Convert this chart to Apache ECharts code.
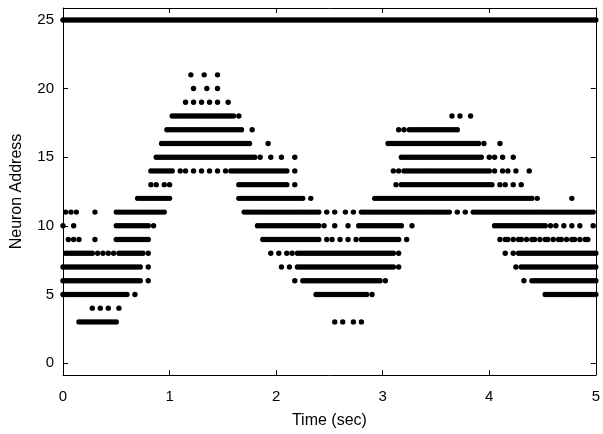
<!DOCTYPE html>
<html><head><meta charset="utf-8">
<script src="https://cdn.jsdelivr.net/npm/echarts@6/dist/echarts.min.js"></script>
<style>html,body{margin:0;padding:0;background:#fff}#c{width:603px;height:434px}</style>
</head><body><div id="c"></div>
<script>
// time bin width (seconds) used to read spike positions off the raster
const binSeconds = 0.025;
// neuron rows
const neuronIds = [3,4,5,6,7,8,9,10,11,12,13,14,15,16,17,18,19,20,21,25];
// spike bins per row (index into time bins; "a-b" = every bin from a to b)
const spikeBins = [
  "6-20,102,105,109,112",
  "11,14,17,21",
  "0-24,27,95-114,116,181-200",
  "0-29,32,87,90-119,121,173,176-200",
  "0-29,32,82,85,88-124,126,170,172-200",
  "1-11,13,15,17,19,21-30,32,78,81,84,86,88-124,126,166,169,171-200",
  "2,4,6,12,20-32,75-96,99,101,104,107,110,112-126,129,164,166,167,169,171,172,174,176,177,179,181,182,184,186,187,189,191,192,194,196,197",
  "0,4,20-32,34,73-96,98,102,107,111-127,131,162-181,183,185,188,191,194,199",
  "1,3,5,12,20-38,68-96,99,102,106,109,112-145,148,151,154-199",
  "28-40,66-90,93,117-176,178,191",
  "33,35,38,40,66-84,87,125,127-161,164,166,169,172",
  "33-41,44,46,49,52,55,58,61,63-84,87,124,126,128-160,162,165,167,170,175",
  "35-72,74,78,82,87,127-157,160,162,165,169",
  "37-70,77,122-156,158,164",
  "39-67,71,126,128,130-148",
  "41-64,66,146,149,153",
  "46,49,52,55,58,62",
  "49,54,58",
  "48,53,58",
  "0-200"
];
const xTicks = [0,1,2,3,4,5];
const yTicks = [0,5,10,15,20,25];
const xRange = [0,5];
const yRange = [-0.87,25.87];

function parseBins(s){
  const out=[];
  s.split(',').forEach(p=>{
    if(p.indexOf('-')>0){const ab=p.split('-').map(Number); for(let i=ab[0];i<=ab[1];i++) out.push(i);}
    else out.push(Number(p));
  });
  return out;
}
const points=[];
neuronIds.forEach((n,k)=>parseBins(spikeBins[k]).forEach(b=>points.push([b*binSeconds,n])));

const font = "'Liberation Sans', Arial, sans-serif";
const lineStyle = {color:'#000', width:1};
const chart = echarts.init(document.getElementById('c'), null, {renderer:'canvas'});
chart.setOption({
  animation:false,
  backgroundColor:'#fff',
  grid:{left:63,right:3,top:8,bottom:57,containLabel:false},
  xAxis:[
    {type:'value',min:xRange[0],max:xRange[1],interval:1,position:'bottom',
     axisLine:{show:true,onZero:false,lineStyle},
     axisTick:{show:true,inside:true,length:5,lineStyle},
     axisLabel:{show:true,color:'#000',fontSize:15,fontFamily:font,margin:14,
       customValues:xTicks},
     splitLine:{show:false},
     name:'Time (sec)',nameLocation:'middle',nameGap:38,
     nameTextStyle:{color:'#000',fontSize:16,fontFamily:font}},
    {type:'value',min:xRange[0],max:xRange[1],interval:1,position:'top',
     axisLine:{show:true,onZero:false,lineStyle},
     axisTick:{show:true,inside:true,length:5,lineStyle},
     axisLabel:{show:false},splitLine:{show:false}}
  ],
  yAxis:[
    {type:'value',min:yRange[0],max:yRange[1],position:'left',
     axisLine:{show:true,onZero:false,lineStyle},
     axisTick:{show:true,inside:true,length:5,lineStyle,customValues:yTicks},
     axisLabel:{show:true,color:'#000',fontSize:15,fontFamily:font,margin:9,
       customValues:yTicks},
     splitLine:{show:false},
     name:'Neuron Address',nameLocation:'middle',nameGap:38,
     nameTextStyle:{color:'#000',fontSize:16,fontFamily:font}},
    {type:'value',min:yRange[0],max:yRange[1],position:'right',
     axisLine:{show:true,onZero:false,lineStyle},
     axisTick:{show:true,inside:true,length:5,lineStyle,customValues:yTicks},
     axisLabel:{show:false},splitLine:{show:false}}
  ],
  series:[{
    type:'scatter',xAxisIndex:0,yAxisIndex:0,
    data:points,symbol:'circle',symbolSize:5.4,
    itemStyle:{color:'#000',opacity:1},silent:true
  }]
});
</script></body></html>
